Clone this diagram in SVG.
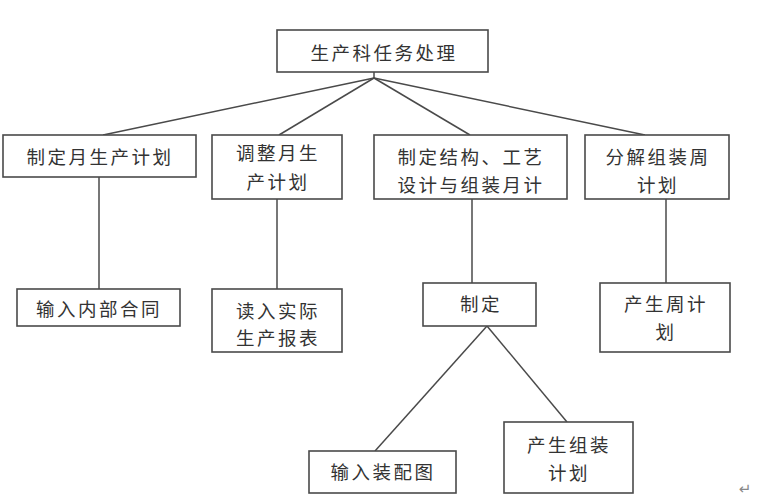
<svg xmlns="http://www.w3.org/2000/svg" width="773" height="504" viewBox="0 0 773 504">
<style>
rect{fill:#fff;stroke:#4a4a4a;stroke-width:1.6}
text{font-family:"Noto Sans CJK SC","Liberation Sans",sans-serif;font-size:18.5px;letter-spacing:2.5px;fill:#333;text-anchor:middle}
.c line{stroke:#4a4a4a;stroke-width:1.5}
</style>
<rect x="0" y="0" width="773" height="504" style="fill:#fff;stroke:none"/>
<g class="c" id="connectors">
<line x1="374" y1="78" x2="103" y2="135"/>
<line x1="374" y1="78" x2="279" y2="135"/>
<line x1="374" y1="78" x2="470" y2="135"/>
<line x1="374" y1="78" x2="645" y2="135"/>
<line x1="374" y1="72" x2="374" y2="78"/>
<line x1="99" y1="177" x2="99" y2="289"/>
<line x1="277" y1="199" x2="277" y2="289"/>
<line x1="472" y1="199" x2="472" y2="283"/>
<line x1="666" y1="199" x2="666" y2="283"/>
<line x1="487" y1="326" x2="375" y2="451"/>
<line x1="487" y1="326" x2="567" y2="422"/>
</g>
<g id="root"><rect x="277" y="30" width="211" height="42"/><text x="384" y="60">生产科任务处理</text></g>
<g id="n1"><rect x="3" y="135" width="193" height="42"/><text x="100" y="164">制定月生产计划</text></g>
<g id="n2"><rect x="212" y="135" width="130" height="64"/><text x="278" y="160">调整月生</text><text x="278" y="189">产计划</text></g>
<g id="n3"><rect x="374" y="135" width="193" height="64"/><text x="471" y="164">制定结构、工艺</text><text x="471" y="192">设计与组装月计</text></g>
<g id="n4"><rect x="585" y="135" width="144" height="64"/><text x="658" y="164">分解组装周</text><text x="658" y="192">计划</text></g>
<g id="n5"><rect x="17" y="289" width="163" height="37"/><text x="99" y="316">输入内部合同</text></g>
<g id="n6"><rect x="212" y="289" width="130" height="63"/><text x="278" y="318">读入实际</text><text x="278" y="345">生产报表</text></g>
<g id="n7"><rect x="423" y="283" width="113" height="43"/><text x="481" y="311">制定</text></g>
<g id="n8"><rect x="600" y="283" width="130" height="69"/><text x="666" y="311">产生周计</text><text x="666" y="339">划</text></g>
<g id="n9"><rect x="309" y="451" width="147" height="42"/><text x="383" y="479">输入装配图</text></g>
<g id="n10"><rect x="504" y="422" width="129" height="71"/><text x="569" y="452">产生组装</text><text x="569" y="480">计划</text></g>
<text x="745" y="494" style="font-family:'DejaVu Sans',sans-serif;font-size:15px;letter-spacing:0;fill:#888">↵</text>
</svg>
